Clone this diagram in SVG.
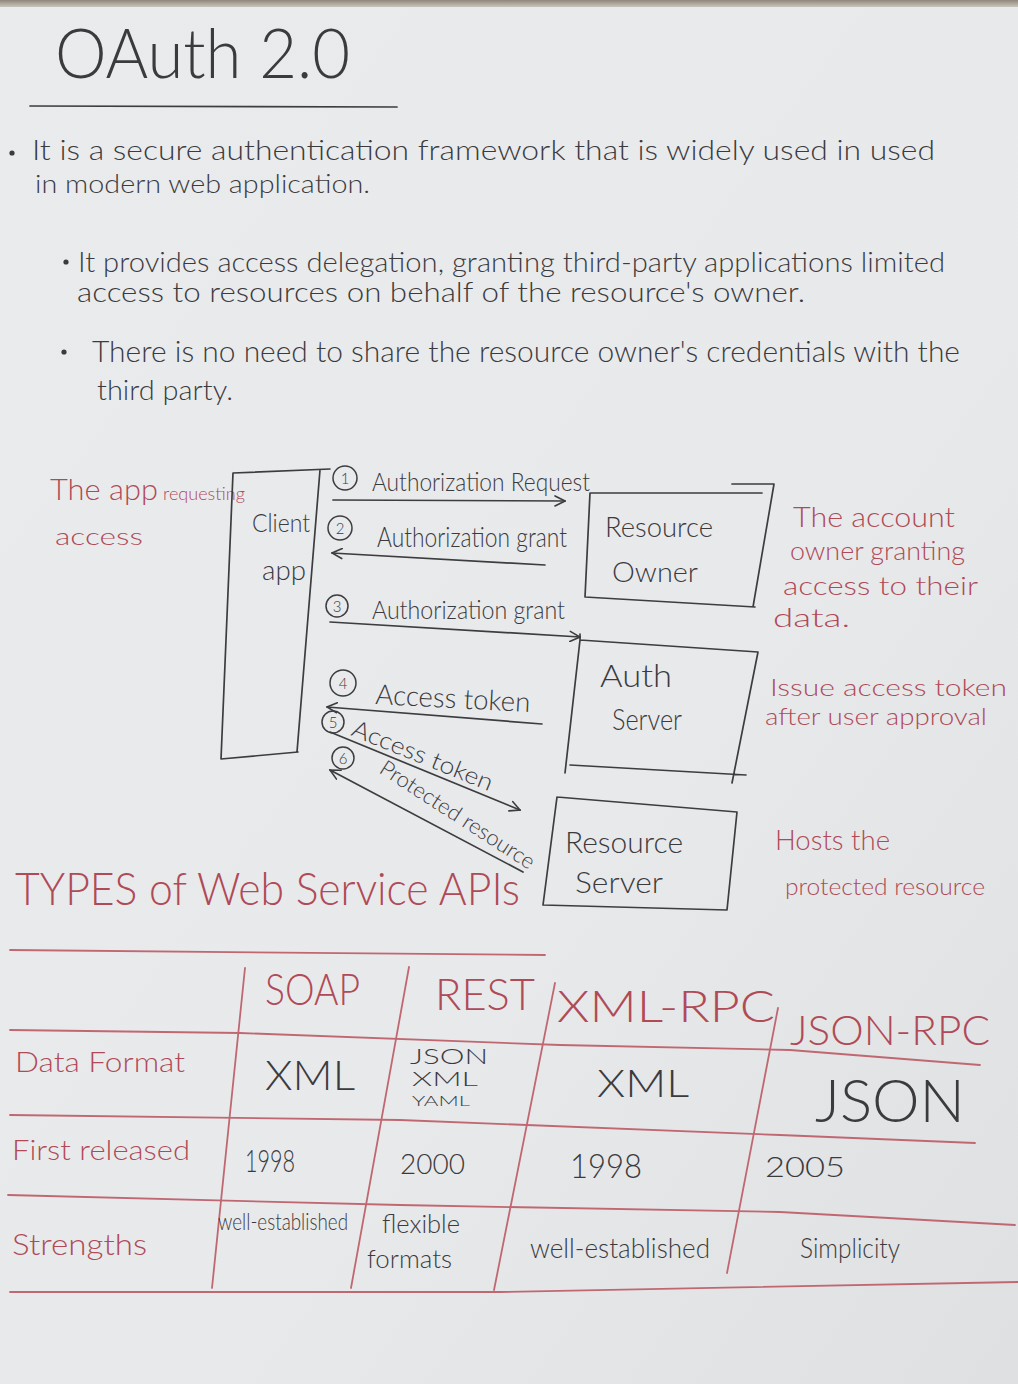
<svg xmlns="http://www.w3.org/2000/svg" width="1018" height="1384" viewBox="0 0 1018 1384">
  <defs>
    <linearGradient id="paper" x1="0" y1="0" x2="1" y2="1">
      <stop offset="0" stop-color="#eaebed"/>
      <stop offset="0.6" stop-color="#e8e9eb"/>
      <stop offset="1" stop-color="#dfe0e2"/>
    </linearGradient>
    <linearGradient id="desk" x1="0" y1="0" x2="0" y2="1">
      <stop offset="0" stop-color="#8f877a"/>
      <stop offset="1" stop-color="#c9c5bd"/>
    </linearGradient>
    <marker id="head" viewBox="0 0 12 12" refX="11" refY="6" markerWidth="12" markerHeight="12" markerUnits="userSpaceOnUse" orient="auto-start-reverse">
      <path d="M1,1 L11,6 L1,11" fill="none" stroke="#3d3d40" stroke-width="1.6" stroke-linecap="round"/>
    </marker>
    <style>
      .ink { font-family: Lato, "Open Sans", "Liberation Sans", sans-serif; font-weight: 300; fill: #3b3b3e; }
      .red { font-family: Lato, "Open Sans", "Liberation Sans", sans-serif; font-weight: 300; fill: #b04a56; }
      .pen { fill: none; stroke: #3d3d40; stroke-width: 1.7; stroke-linecap: round; stroke-linejoin: round; }
      .rule { fill: none; stroke: #c06872; stroke-width: 1.8; stroke-linecap: round; stroke-linejoin: round; }
      .num { fill: none; stroke: #3d3d40; stroke-width: 1.5; }
      .numtx { font-family: Lato, "Liberation Sans", sans-serif; font-weight: 300; fill: #3b3b3e; font-size: 15px; text-anchor: middle; }
    </style>
  </defs>

  <!-- sheet of paper on the desk -->
  <rect x="0" y="0" width="1018" height="1384" fill="url(#paper)"/>
  <rect x="0" y="0" width="1018" height="7" fill="url(#desk)"/>

  <!-- heading -->
  <g id="heading">
    <text class="ink" x="55" y="78" font-size="68" textLength="295" lengthAdjust="spacingAndGlyphs">OAuth 2.0</text>
    <path class="pen" d="M30,106 L397,107"/>
  </g>

  <!-- bullet notes -->
  <g id="notes">
    <circle cx="12" cy="153" r="2.6" fill="#3b3b3e"/>
    <text class="ink" x="32" y="160" font-size="27" textLength="903" lengthAdjust="spacingAndGlyphs">It is a secure authentication framework that is widely used in used</text>
    <text class="ink" x="35" y="193" font-size="26" textLength="335" lengthAdjust="spacingAndGlyphs">in modern web application.</text>
    <circle cx="66" cy="262" r="2.6" fill="#3b3b3e"/>
    <text class="ink" x="78" y="272" font-size="27" textLength="867" lengthAdjust="spacingAndGlyphs">It provides access delegation, granting third-party applications limited</text>
    <text class="ink" x="77" y="302" font-size="27" textLength="728" lengthAdjust="spacingAndGlyphs">access to resources on behalf of the resource's owner.</text>
    <circle cx="64" cy="352" r="2.6" fill="#3b3b3e"/>
    <text class="ink" x="92" y="362" font-size="29" textLength="868" lengthAdjust="spacingAndGlyphs">There is no need to share the resource owner's credentials with the</text>
    <text class="ink" x="97" y="400" font-size="27" textLength="136" lengthAdjust="spacingAndGlyphs">third party.</text>
  </g>

  <!-- role descriptions -->
  <g id="role-notes">
    <text class="red" x="50" y="500"><tspan font-size="30" textLength="108" lengthAdjust="spacingAndGlyphs">The app</tspan><tspan x="163" font-size="18" textLength="82" lengthAdjust="spacingAndGlyphs">requesting</tspan></text>
    <text class="red" x="55" y="545" font-size="24" textLength="88" lengthAdjust="spacingAndGlyphs">access</text>
    <text class="red" x="793" y="527" font-size="27" textLength="162" lengthAdjust="spacingAndGlyphs">The account</text>
    <text class="red" x="790" y="560" font-size="26" textLength="175" lengthAdjust="spacingAndGlyphs">owner granting</text>
    <text class="red" x="783" y="595" font-size="26" textLength="195" lengthAdjust="spacingAndGlyphs">access to their</text>
    <text class="red" x="773" y="627" font-size="26" textLength="77" lengthAdjust="spacingAndGlyphs">data.</text>
    <text class="red" x="770" y="696" font-size="23" textLength="237" lengthAdjust="spacingAndGlyphs">Issue access token</text>
    <text class="red" x="765" y="725" font-size="23" textLength="222" lengthAdjust="spacingAndGlyphs">after user approval</text>
    <text class="red" x="775" y="850" font-size="27" textLength="115" lengthAdjust="spacingAndGlyphs">Hosts the</text>
    <text class="red" x="785" y="895" font-size="23" textLength="200" lengthAdjust="spacingAndGlyphs">protected resource</text>
  </g>

  <!-- actors -->
  <g id="client-app">
    <path class="pen" d="M233,473 L330,469 M320,470 L297,752 M233,473 L221,759 L298,752"/>
    <text class="ink" x="252" y="532" font-size="26" textLength="58" lengthAdjust="spacingAndGlyphs">Client</text>
    <text class="ink" x="262" y="580" font-size="27" textLength="44" lengthAdjust="spacingAndGlyphs">app</text>
  </g>
  <g id="resource-owner">
    <path class="pen" d="M590,493 L762,493 M732,484 L774,484 L753,607 M590,493 L585,597 L755,607"/>
    <text class="ink" x="605" y="537" font-size="28" textLength="108" lengthAdjust="spacingAndGlyphs">Resource</text>
    <text class="ink" x="612" y="582" font-size="28" textLength="86" lengthAdjust="spacingAndGlyphs">Owner</text>
  </g>
  <g id="auth-server">
    <path class="pen" d="M580,634 L580,640 L758,652 L732,783 M580,640 L565,773 M570,765 L746,775"/>
    <text class="ink" x="600" y="687" font-size="32" textLength="72" lengthAdjust="spacingAndGlyphs">Auth</text>
    <text class="ink" x="612" y="730" font-size="30" textLength="70" lengthAdjust="spacingAndGlyphs">Server</text>
  </g>
  <g id="resource-server">
    <path class="pen" d="M557,797 L737,812 L727,910 M557,797 L543,905 L727,910"/>
    <text class="ink" x="565" y="853" font-size="30" textLength="118" lengthAdjust="spacingAndGlyphs">Resource</text>
    <text class="ink" x="575" y="893" font-size="30" textLength="88" lengthAdjust="spacingAndGlyphs">Server</text>
  </g>

  <!-- numbered flow between client and servers -->
  <g id="connectors">
    <path class="pen" d="M333,500 L565,501" marker-end="url(#head)"/>
    <path class="pen" d="M332,553 L545,565" marker-start="url(#head)"/>
    <path class="pen" d="M330,622 L580,637" marker-end="url(#head)"/>
    <path class="pen" d="M327,707 L542,724" marker-start="url(#head)"/>
    <path class="pen" d="M330,732 L520,810" marker-end="url(#head)"/>
    <path class="pen" d="M330,770 L523,872" marker-start="url(#head)"/>

    <circle class="num" cx="345" cy="478" r="12"/>
    <text class="numtx" x="345" y="484">1</text>
    <text class="ink" x="372" y="491" font-size="26" textLength="218" lengthAdjust="spacingAndGlyphs">Authorization Request</text>

    <circle class="num" cx="340" cy="528" r="12"/>
    <text class="ink" x="377" y="547" font-size="27" textLength="190" lengthAdjust="spacingAndGlyphs">Authorization grant</text>
    <text class="numtx" x="340" y="534">2</text>

    <circle class="num" cx="337" cy="606" r="11"/>
    <text class="numtx" x="337" y="612">3</text>
    <text class="ink" x="372" y="619" font-size="25" textLength="193" lengthAdjust="spacingAndGlyphs">Authorization grant</text>

    <circle class="num" cx="343" cy="683" r="13"/>
    <text class="numtx" x="343" y="689">4</text>
    <text class="ink" x="375" y="704" font-size="28" textLength="155" lengthAdjust="spacingAndGlyphs" transform="rotate(3 375 704)">Access token</text>

    <circle class="num" cx="333" cy="722" r="11"/>
    <text class="numtx" x="333" y="728">5</text>
    <text class="ink" x="350" y="735" font-size="24" textLength="150" lengthAdjust="spacingAndGlyphs" transform="rotate(22 350 735)">Access token</text>

    <circle class="num" cx="343" cy="758" r="11"/>
    <text class="numtx" x="343" y="764">6</text>
    <text class="ink" x="378" y="772" font-size="22" textLength="180" lengthAdjust="spacingAndGlyphs" transform="rotate(33 378 772)">Protected resource</text>
  </g>

  <!-- comparison table -->
  <g id="api-table">
    <text class="red" x="15" y="905" font-size="46" textLength="505" lengthAdjust="spacingAndGlyphs">TYPES of Web Service APIs</text>
    <path class="rule" d="M10,950 L545,955"/>

    <path class="rule" d="M10,1030 L240,1033 L560,1045 L790,1050 L980,1065"/>
    <path class="rule" d="M10,1115 L400,1120 L780,1135 L975,1143"/>
    <path class="rule" d="M8,1195 L400,1205 L780,1212 L1015,1225"/>
    <path class="rule" d="M10,1292 L500,1292 L1018,1282"/>
    <path class="rule" d="M245,968 L212,1288"/>
    <path class="rule" d="M409,967 L351,1288"/>
    <path class="rule" d="M555,983 L494,1290"/>
    <path class="rule" d="M778,1008 L727,1273"/>

    <text class="red" x="265" y="1005" font-size="44" textLength="95" lengthAdjust="spacingAndGlyphs">SOAP</text>
    <text class="red" x="435" y="1010" font-size="44" textLength="100" lengthAdjust="spacingAndGlyphs">REST</text>
    <text class="red" x="557" y="1022" font-size="44" textLength="218" lengthAdjust="spacingAndGlyphs">XML-RPC</text>
    <text class="red" x="790" y="1045" font-size="42" textLength="200" lengthAdjust="spacingAndGlyphs">JSON-RPC</text>

    <text class="red" x="15" y="1072" font-size="27" textLength="170" lengthAdjust="spacingAndGlyphs">Data Format</text>
    <text class="red" x="12" y="1160" font-size="28" textLength="178" lengthAdjust="spacingAndGlyphs">First released</text>
    <text class="red" x="12" y="1255" font-size="30" textLength="135" lengthAdjust="spacingAndGlyphs">Strengths</text>

    <text class="ink" x="265" y="1090" font-size="42" textLength="90" lengthAdjust="spacingAndGlyphs">XML</text>
    <text class="ink" x="410" y="1064" font-size="21" textLength="78" lengthAdjust="spacingAndGlyphs">JSON</text>
    <text class="ink" x="412" y="1086" font-size="20" textLength="66" lengthAdjust="spacingAndGlyphs">XML</text>
    <text class="ink" x="412" y="1106" font-size="14" textLength="58" lengthAdjust="spacingAndGlyphs">YAML</text>
    <text class="ink" x="597" y="1097" font-size="38" textLength="92" lengthAdjust="spacingAndGlyphs">XML</text>
    <text class="ink" x="815" y="1122" font-size="60" textLength="150" lengthAdjust="spacingAndGlyphs">JSON</text>

    <text class="ink" x="245" y="1172" font-size="32" textLength="50" lengthAdjust="spacingAndGlyphs">1998</text>
    <text class="ink" x="400" y="1174" font-size="28" textLength="65" lengthAdjust="spacingAndGlyphs">2000</text>
    <text class="ink" x="570" y="1178" font-size="34" textLength="72" lengthAdjust="spacingAndGlyphs">1998</text>
    <text class="ink" x="765" y="1177" font-size="28" textLength="80" lengthAdjust="spacingAndGlyphs">2005</text>

    <text class="ink" x="218" y="1230" font-size="23" textLength="130" lengthAdjust="spacingAndGlyphs">well-established</text>
    <text class="ink" x="382" y="1233" font-size="25" textLength="78" lengthAdjust="spacingAndGlyphs">flexible</text>
    <text class="ink" x="367" y="1268" font-size="25" textLength="85" lengthAdjust="spacingAndGlyphs">formats</text>
    <text class="ink" x="530" y="1258" font-size="27" textLength="180" lengthAdjust="spacingAndGlyphs">well-established</text>
    <text class="ink" x="800" y="1258" font-size="28" textLength="100" lengthAdjust="spacingAndGlyphs">Simplicity</text>
  </g>
</svg>
